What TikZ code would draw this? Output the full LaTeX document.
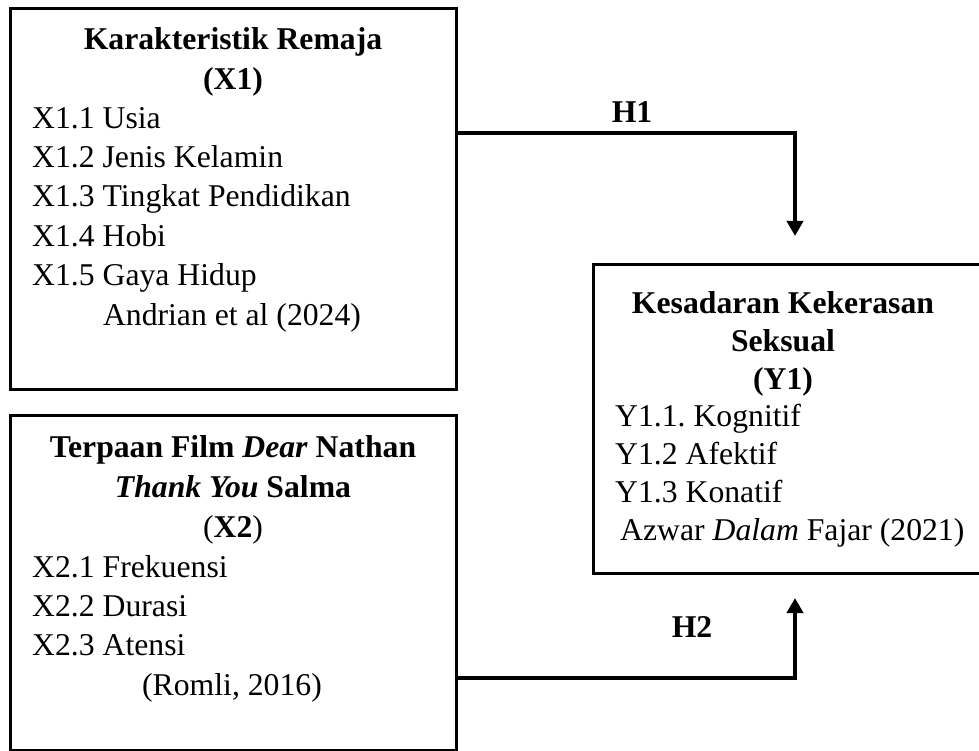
\documentclass[tikz,border=0pt]{standalone}
\usepackage{fontspec}
\setmainfont{Liberation Serif}
\usepackage{tikz}
\usetikzlibrary{shapes,arrows.meta}
\tikzstyle{block} = [rectangle, draw, line width=3pt, inner sep=0pt]
\tikzstyle{head} = [anchor=base, align=center, inner sep=0pt,
    font=\fontsize{31.7}{39.5}\selectfont\bfseries]
\tikzstyle{items} = [anchor=base west, align=left, inner sep=0pt,
    font=\fontsize{31.7}{39.3}\selectfont]
\tikzstyle{cite} = [anchor=base, inner sep=0pt, font=\fontsize{31.7}{39.3}\selectfont]
\tikzstyle{hlabel} = [anchor=base, inner sep=0pt, font=\fontsize{31.7}{39.3}\selectfont\bfseries]
\tikzstyle{line} = [draw, line width=4pt, -{Triangle[width=16pt,length=15pt]}]

\begin{document}
\begin{tikzpicture}[x=1pt, y=-1pt]
    \useasboundingbox (0,0) rectangle (979,751);
    % Place nodes (multi-line text sits on the baseline of its last line)
    \node [block, minimum width=446pt, minimum height=380pt] (kar) at (233,199) {};
    \node [block, minimum width=446pt, minimum height=335pt] (film) at (233,582.5) {};
    \node [block, minimum width=388pt, minimum height=309pt] (sadar) at (787,418.5) {};

    \node [head] (karhead) at (233,89.5) {Karakteristik Remaja\\(X1)};
    \node [items] (karlist) at (32,285.5) {X1.1 Usia\\X1.2 Jenis Kelamin\\X1.3 Tingkat Pendidikan\\X1.4 Hobi\\X1.5 Gaya Hidup};
    \node [cite] (karcite) at (232,325) {Andrian et al (2024)};

    \node [head, font=\fontsize{31.7}{40}\selectfont\bfseries] (filmhead) at (233,537) {Terpaan Film \textit{Dear} Nathan\\\textit{Thank You} Salma\\\textmd{(}X2\textmd{)}};
    \node [items] (filmlist) at (32,655.6) {X2.1 Frekuensi\\X2.2 Durasi\\X2.3 Atensi};
    \node [cite] (filmcite) at (232,695) {(Romli, 2016)};

    \node [head, font=\fontsize{31.7}{38}\selectfont\bfseries] (sadarhead) at (783,389) {Kesadaran Kekerasan\\Seksual\\(Y1)};
    \node [items, font=\fontsize{31.7}{38}\selectfont] (sadarlist) at (615,540) {Y1.1.\ Kognitif\\Y1.2 Afektif\\Y1.3 Konatif\\\hspace*{5pt}Azwar \textit{Dalam} Fajar (2021)};

    \node [hlabel] (h1) at (632,123) {H1};
    \node [hlabel] (h2) at (692,637) {H2};
    \coordinate (h1end) at (795,236);
    \coordinate (h2end) at (795,598);

    % Draw edges
    \path [line] ([yshift=-126pt]kar.north east) -| (h1end);
    \path [line] ([yshift=-264pt]film.north east) -| (h2end);

\end{tikzpicture}
\end{document}
